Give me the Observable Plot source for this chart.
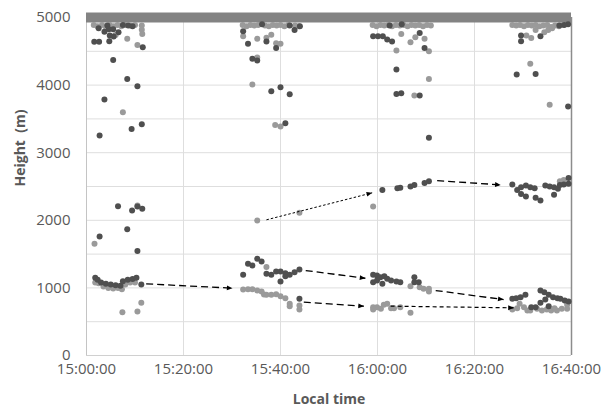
<!DOCTYPE html>
<html>
<head>
<meta charset="utf-8">
<script src="https://cdn.jsdelivr.net/npm/d3@7"></script>
<script src="https://cdn.jsdelivr.net/npm/@observablehq/plot@0.6"></script>
<style>
  html, body { margin: 0; padding: 0; background: #fff; }
</style>
</head>
<body>
<div id="chart"></div>
<script>
// minutes after 15:00:00 local time, height in m
const xTickMinutes = [0, 20, 40, 60, 80, 100];
const yTickValues = [0, 1000, 2000, 3000, 4000, 5000];
const yGridValues = [500, 1000, 1500, 2000, 2500, 3000, 3500, 4000, 4500, 5000];
const topMarker = [5000];

// Dark points [minute, height]
const darkG1 = [
  [2.5,4840],[4.3,4880],[7.5,4890],[8.6,4880],[9.5,4870],
  [3.7,4790],[4.6,4826],[5.5,4826],[4.8,4733],[5.6,4718],[6.6,4782],[11.6,4560],[1.6,4640],[2.6,4640],[4.7,4650],
  [5.5,4373],[8.4,4092],[10.5,3983],[3.7,3786],[11.4,3421],[9.3,3352],[2.7,3254],
  [6.5,2208],[9.4,2145],[10.5,2204],[11.5,2170],[8.4,1868],[2.7,1760],[10.5,1545],
  [1.8,1150],[2.3,1120],[3,1080],[4,1060],[5,1050],[6,1040],[7,1030],[7.5,1100],[8.5,1120],[9.5,1130],[10.3,1150],[11.3,1050]
];
const lightG1 = [
  [1.5,4890],[2.3,4870],[3.2,4890],[4,4860],[4.8,4890],[5.6,4870],[6.4,4890],[7.2,4870],[8,4890],[9,4880],[10,4890],[11.4,4880],[11.4,4820],
  [8.4,4684],[11.5,4757],[10.5,4593],[6,4740],[7.5,3598],
  [1.65,1652],[10.5,2220],
  [1.8,1080],[2.5,1070],[3.5,1020],[4.5,1000],[5.5,990],[6.5,1000],[7.3,980],[8,1050],[9,1080],[10,1080],[11.3,780],[7.4,640],[10.5,650]
];
const darkG2 = [
  [36.2,4900],[41.9,4880],[44,4870],[32.3,4797],[33.3,4610],[37.1,4644],[39.1,4548],[42.9,4815],
  [34.2,4388],[35.2,4363],[38.1,3909],[40,3968],[41.9,3865],[41,3436],
  [32.3,1193],[33.3,1356],[34.2,1331],[35.2,1430],[36.1,1390],[37.1,1208],[38.1,1193],[39.1,1242],[40,1242],[40,1094],[41,1173],[41.9,1193],[41,1215],[42.9,1233],[43.9,1272],[43.9,838]
];
const lightG2 = [
  [32.2,4890],[33,4870],[33.8,4890],[34.6,4880],[35.4,4890],[36.8,4880],[37.6,4870],[38.4,4890],[39.2,4880],[40,4890],[40.8,4870],[41.6,4890],[43,4880],[43.8,4870],
  [32.3,4723],[35.2,4684],[37.1,4700],[38.1,4743],[39.1,4620],[40,4610],
  [35.2,4410],[34.2,4008],[38.9,3408],[40,3387],
  [35.2,1997],[43.9,2110],
  [37.1,1310],[32.3,976],[33.3,981],[34.2,981],[35.2,961],[36.1,946],[36.6,902],[37.1,897],[38.1,897],[39.1,907],[40,877],[41,848],[41.9,764],[41.9,730],[43.9,739],[43.9,680]
];
const darkG3 = [
  [59.1,4723],[60.1,4723],[61.1,4723],[62,4674],[63,4644],[68.7,4771],[69.7,4550],[62.5,4880],[65,4900],
  [63.9,4230],[63.9,3870],[64.9,3880],[68.7,3845],[70.6,3220],
  [61,2450],[64.1,2474],[64.7,2480],[66.8,2500],[67.6,2524],[69.7,2550],[70.6,2578],
  [59.1,1193],[59.1,1085],[59.9,1183],[59.9,1109],[60.6,1158],[61,1060],[61.4,1173],[62,1134],[62.8,1109],[63.9,1094],[64.7,1085],[67.6,1158],[67.6,1085],[68.5,1085]
];
const lightG3 = [
  [59,4890],[59.8,4870],[60.6,4890],[61.4,4880],[62.2,4890],[63,4870],[63.8,4890],[64.6,4880],[65.4,4890],[66.2,4870],[67,4890],[67.8,4880],[68.6,4890],[69.4,4870],[70.2,4890],[71,4880],
  [63.9,4511],[64.9,4757],[67.8,4708],[66.8,4634],[69.7,4684],[70.6,4501],
  [70.6,4092],[67.6,3845],
  [59.1,2204],
  [66.8,1025],[68.7,1010],[69.5,986],[70.6,986],[70.6,946],[59.1,715],[59.9,715],[60.7,690],[61.3,750],[62,764],[62.8,700],[63.4,700],[64.7,715],[66.8,631],[59.1,680]
];
const darkG4 = [
  [89.6,4733],[89.6,4650],[93.6,4723],[99.3,4900],[98.5,4890],[97.5,4880],[88.7,4156],[92.6,4166],[99.3,3683],
  [87.8,2529],[88.8,2450],[89.6,2490],[90.6,2514],[91.5,2490],[92.4,2474],[89.6,2390],[90.6,2352],[92.6,2332],[93.6,2293],[94.6,2514],[95.5,2500],[96.4,2490],[96.4,2377],[97.2,2465],[97.6,2524],[98.4,2529],[99.4,2539],[99.4,2627],
  [87.8,838],[88.6,848],[89.5,863],[90.5,897],[93.6,961],[94.4,937],[94.6,828],[95.3,897],[96.2,863],[97.1,848],[97.7,838],[98.6,813],[93.6,779],[92.6,715],[95.3,730],[91.7,715],[99.4,800]
];
const lightG4 = [
  [87.8,4890],[88.6,4880],[89.4,4890],[90.2,4870],[91,4890],[91.8,4880],[92.6,4890],[93.4,4870],[94.2,4880],[95,4890],[95.8,4860],[96.6,4880],[97.4,4870],[98.2,4890],
  [90.7,4733],[91.7,4698],[92.6,4815],[94.4,4782],[95.2,4815],[96,4840],[91.5,4314],[95.5,3708],
  [98.4,2598],[97.6,2578],
  [87.8,680],[88.8,700],[90.2,715],[90.9,665],[91.5,665],[92.9,690],[93.9,665],[94.9,680],[95.8,665],[97,665],[99.1,750],[99.1,690],[89.3,764],[98,690],[96.5,700]
];

// Arrows [startMinute, startHeight, endMinute, endHeight]
const arrowsLong = [
  [12.3,1060,30.1,996],
  [45.2,1257,57.5,1143],
  [44.8,789,57.2,730],
  [72.3,2588,85.4,2524],
  [72,961,86,828]
];
const arrowsFine = [[37.1,2007,58.9,2406]];
const arrowsMedium = [[62.7,730,88.1,705]];

const T0 = Date.UTC(2020, 0, 1, 15, 0, 0);
const toDate = m => new Date(T0 + m * 60000);
const pts = arr => arr.map(([m, h]) => ({t: toDate(m), h}));
const arrs = arr => arr.map(([m1, h1, m2, h2]) => ({t1: toDate(m1), h1, t2: toDate(m2), h2}));

const dark = pts([...darkG1, ...darkG2, ...darkG3, ...darkG4]);
const light = pts([...lightG1, ...lightG2, ...lightG3, ...lightG4]);

function triHead(color, context) {
  const ns = "http://www.w3.org/2000/svg";
  const m = document.createElementNS(ns, "marker");
  m.setAttribute("viewBox", "-5 -5 10 10");
  m.setAttribute("markerWidth", 8);
  m.setAttribute("markerHeight", 8);
  m.setAttribute("markerUnits", "userSpaceOnUse");
  m.setAttribute("refX", 3);
  m.setAttribute("orient", "auto");
  const p = document.createElementNS(ns, "path");
  p.setAttribute("d", "M-4,-3L3,0L-4,3Z");
  p.setAttribute("fill", "#000");
  p.setAttribute("stroke", "none");
  p.setAttribute("stroke-dasharray", "none");
  m.appendChild(p);
  return m;
}

const linkOpts = (dash, w) => ({
  x1: "t1", y1: "h1", x2: "t2", y2: "h2",
  stroke: "#000", strokeWidth: w, strokeDasharray: dash,
  markerEnd: triHead
});

const chart = Plot.plot({
  width: 601,
  height: 417,
  marginLeft: 86,
  marginRight: 30,
  marginTop: 17,
  marginBottom: 62,
  style: {fontFamily: "'Open Sans', sans-serif", fontSize: "15px", color: "#595959", background: "#fff"},
  x: {type: "utc", domain: [toDate(0), toDate(100)]},
  y: {domain: [0, 5000]},
  marks: [
    Plot.gridY(yGridValues, {stroke: "#dedede", strokeOpacity: 1}),
    Plot.gridX(xTickMinutes.map(toDate), {stroke: "#dedede", strokeOpacity: 1}),
    Plot.ruleX([toDate(0)], {stroke: "#c4c4c4"}),
    Plot.ruleY([0], {stroke: "#d0d0d0"}),
    Plot.axisX(xTickMinutes.map(toDate), {tickSize: 0, tickPadding: 8, tickFormat: d3.utcFormat("%H:%M:%S"), label: null, fontSize: 15}),
    Plot.axisY(yTickValues, {tickSize: 0, tickPadding: 16, tickFormat: d => String(d), label: null, fontSize: 15}),
    Plot.ruleY(topMarker, {stroke: "#838383", strokeWidth: 10}),
    Plot.ruleX([toDate(100)], {stroke: "#8c8c8c", strokeWidth: 1.5}),
    Plot.dot(light, {x: "t", y: "h", r: 3, fill: "#9a9a9a", stroke: "none"}),
    Plot.dot(dark, {x: "t", y: "h", r: 3, fill: "#4f4f4f", stroke: "none"}),
    Plot.link(arrs(arrowsLong), linkOpts("7,4", 1.3)),
    Plot.link(arrs(arrowsMedium), linkOpts("4,3", 1.2)),
    Plot.link(arrs(arrowsFine), linkOpts("2.5,2", 1)),
    Plot.text(["Local time"], {frameAnchor: "bottom", dy: 48, fontWeight: "bold", fontSize: 14, fill: "#595959"}),
    Plot.text(["Height  (m)"], {frameAnchor: "left", dx: -66, rotate: -90, fontWeight: "bold", fontSize: 14, fill: "#595959"})
  ]
});
document.getElementById("chart").appendChild(chart);
</script>
</body>
</html>
